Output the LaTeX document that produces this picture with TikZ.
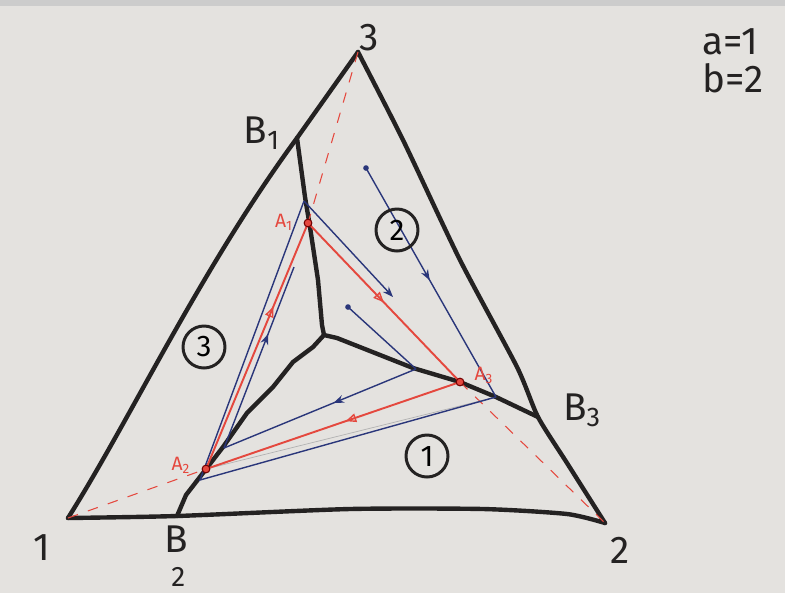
\documentclass[tikz,border=0pt]{standalone}
\usepackage{fontspec}
\setmainfont{Fira Sans}
\usetikzlibrary{arrows.meta,decorations.markings,calc}

\definecolor{paper}{RGB}{228,226,223}
\definecolor{ink}{RGB}{36,34,34}
\definecolor{bluepen}{RGB}{42,54,122}
\definecolor{redpen}{RGB}{228,72,62}

\begin{document}
\begin{tikzpicture}[x=0.02cm,y=-0.02cm,
  edgeline/.style={ink,line width=2.5pt,line join=round,line cap=round},
  bline/.style={bluepen,line width=0.8pt},
  rline/.style={redpen,line width=1.1pt},
  rdash/.style={redpen,line width=0.6pt,dash pattern=on 6pt off 6pt},
  bmid/.style={postaction={decorate},decoration={markings,mark=at position #1 with {\arrow[bluepen]{Stealth[length=6pt,width=4.5pt]}}}},
  rmid/.style={postaction={decorate},decoration={markings,mark=at position #1 with {\arrow[redpen,line width=0.8pt]{Triangle[open,length=6pt,width=5pt]}}}},
  region/.style={draw=ink,circle,line width=1.7pt,minimum size=0.84cm,inner sep=0pt,font=\fontsize{17}{17}\selectfont},
  corner/.style={ink,font=\fontsize{22}{24}\selectfont},
  alabel/.style={redpen,font=\fontsize{11}{12}\selectfont},
]
\useasboundingbox (0,0) rectangle (785,593);
\fill[paper] (0,0) rectangle (785,593);
\fill[gray!40] (0,0) rectangle (785,6);

\coordinate (v1) at (68,518);
\coordinate (v2) at (605,523);
\coordinate (v3) at (358,52);
\coordinate (B1) at (297,138);
\coordinate (B2) at (177,516);
\coordinate (B3) at (538,417);
\coordinate (C) at (324,335);
\coordinate (A1) at (308,223);
\coordinate (A2) at (206,469);
\coordinate (A3) at (460,382);
\coordinate (P1) at (366,168);
\coordinate (P2) at (496,397);
\coordinate (P3) at (200,480);
\coordinate (P4) at (304,201);
\coordinate (P5) at (393,297);
\coordinate (Q1) at (348,307);
\coordinate (Q2) at (416,369);
\coordinate (Q3) at (224,448);
\coordinate (Q4) at (294,267);

% triangle
\draw[edgeline] (v1) .. controls (130,420) and (200,270) .. (B1) -- (v3);
\draw[edgeline] plot[smooth,tension=0.4] coordinates {(v3) (403,140) (460,260) (517,367) (B3) (567,463) (v2)};
\draw[edgeline] plot[smooth,tension=0.4] coordinates {(v1) (B2) (350,509) (483,509) (567,514) (v2)};

% borders between the regions
\draw[edgeline] (B1) -- (305,197) -- (310,227) -- (318,280) -- (322,325) -- (C);
\draw[edgeline] (C) -- (337,338) -- (413,368) -- (A3) -- (P2) -- (B3);
\draw[edgeline] (C) -- (313,347) -- (293,362) -- (273,387) -- (247,413) -- (223,447) -- (203,473) -- (186,495) -- (B2);

% red cycle
\draw[rdash] (v3) -- (A1);
\draw[rdash] (v1) -- (A2);
\draw[rdash] (A3) -- (v2);
\draw[gray!60,line width=0.4pt] (A2) -- (P2);
\draw[rline,rmid=0.5] (A1) -- (A3);
\draw[rline,rmid=0.45] (A3) -- (A2);
\draw[rline,rmid=0.66] (A2) -- (A1);

% blue paths
\draw[bline,bmid=0.49] (P1) -- (P2);
\draw[bline] (P2) -- (P3) -- (P4);
\draw[bline,-{Stealth[length=6pt,width=4.5pt]}] (P4) -- (P5);
\draw[bline] (Q1) -- (Q2);
\draw[bline,bmid=0.43] (Q2) -- (Q3);
\draw[bline,bmid=0.63] (Q3) -- (Q4);
\fill[bluepen] (P1) circle (1.6pt);
\fill[bluepen] (Q1) circle (1.6pt);

\foreach \p in {A1,A2,A3}
  \filldraw[fill=redpen,draw=red!45!black,line width=0.6pt] (\p) circle (2.2pt);

\node[alabel] (a1) at (284,222) {A\textsubscript{1}};
\node[alabel] (a2) at (181,465) {A\textsubscript{2}};
\node[alabel] (a3) at (484,375) {A\textsubscript{3}};

\node[corner] (n1) at (42,548) {1};
\node[corner] (n2) at (620,550) {2};
\node[corner] (n3) at (369,38) {3};
\node[corner] (b1) at (262,133) {B\textsubscript{1}};
\node[corner,align=center,inner sep=0pt] (b2) at (176,556) {B\\[-5pt]{\fontsize{16}{16}\selectfont\,2}};
\node[corner] (b3) at (582,410) {B\textsubscript{3}};

\node[region] (r1) at (427,456) {1};
\node[region] (r2) at (397,230) {2};
\node[region] (r3) at (204,347) {3};

\node[corner,anchor=west] (pa) at (696,42) {a=1};
\node[corner,anchor=west] (pb) at (696,78) {b=2};
\end{tikzpicture}
\end{document}
